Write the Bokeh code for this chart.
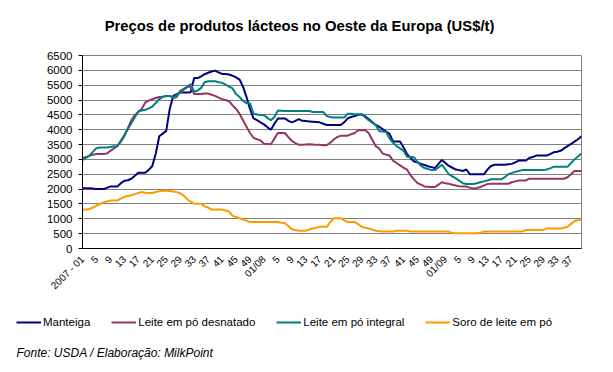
import math
from bokeh.plotting import figure
from bokeh.layouts import column, row
from bokeh.models import (Range1d, FixedTicker, Legend, LegendItem, Label)
from bokeh.embed import file_html
from bokeh.resources import INLINE

# ---- data (US$/t, weekly) ----
weeks = (["2007 - 01"] + [str(w) for w in range(2, 53)] +
         ["01/08"] + [str(w) for w in range(2, 53)] +
         ["01/09"] + [str(w) for w in range(2, 41)])

manteiga = [
    2030, 2030, 2030, 2020, 2000, 2000, 2000, 2040, 2090, 2090,
    2090, 2200, 2280, 2300, 2350, 2450, 2550, 2550, 2550, 2650,
    2780, 3200, 3780, 3870, 3960, 4700, 5140, 5200, 5250, 5250,
    5250, 5260, 5740, 5740, 5800, 5870, 5920, 5960, 5990,
    5930, 5880, 5880, 5860, 5820, 5760, 5690, 5450, 5100, 4700,
    4380, 4320, 4250, 4180, 4080, 4000, 4200, 4380, 4380, 4380,
    4300, 4250, 4300, 4360, 4300, 4290, 4280, 4270, 4260, 4250,
    4200, 4160, 4160, 4160, 4160, 4160, 4250, 4380, 4430, 4460,
    4500, 4520, 4450, 4360, 4260, 4160, 4100, 4020, 3940, 3860,
    3600, 3600, 3600, 3400, 3180, 3050, 2930, 2900, 2850, 2810,
    2770, 2740, 2710, 2850, 2980, 2880, 2780, 2720, 2660, 2640,
    2610, 2660, 2500, 2500, 2500, 2500, 2500, 2650, 2770,
    2820, 2820, 2820, 2820, 2840, 2850, 2900, 2960, 2960, 2960,
    3050, 3080, 3130, 3130, 3130, 3130, 3180, 3240, 3260, 3290,
    3370, 3450, 3520, 3600, 3680, 3780]

desnatado = [
    3040, 3080, 3130, 3160, 3180, 3180, 3180, 3200, 3290, 3370,
    3450, 3600, 3780, 4050, 4320, 4490, 4600, 4710, 4920, 4980,
    5030, 5070, 5100, 5110, 5140, 5140, 5070, 5100, 5310, 5380,
    5430, 5470, 5200, 5200, 5200, 5220, 5220, 5180, 5140,
    5080, 5030, 5000, 4960, 4820, 4700, 4540, 4320, 4100, 3890,
    3730, 3680, 3640, 3530, 3520, 3510, 3700, 3890, 3890, 3890,
    3750, 3620, 3550, 3490, 3490, 3500, 3510, 3500, 3490, 3490,
    3480, 3480, 3560, 3670, 3750, 3800, 3800, 3800, 3850, 3890,
    3980, 3980, 3980, 3890, 3670, 3450, 3370, 3200, 3160, 3130,
    2960, 2880, 2800, 2720, 2660, 2470, 2330, 2200, 2150, 2090,
    2080, 2070, 2070, 2150, 2230, 2200, 2180, 2150, 2120, 2100,
    2090, 2090, 2050, 2020, 2040, 2070, 2120, 2170, 2180,
    2180, 2180, 2180, 2180, 2180, 2230, 2260, 2290, 2290, 2290,
    2350, 2350, 2350, 2350, 2350, 2350, 2350, 2350, 2350, 2350,
    2350, 2400, 2500, 2610, 2610, 2610]

integral = [
    2980, 3050, 3130, 3260, 3380, 3400, 3400, 3400, 3420, 3440,
    3450, 3640, 3830, 4020, 4220, 4420, 4620, 4650, 4670, 4720,
    4780, 4900, 5030, 5100, 5140, 5140, 5090, 5170, 5250, 5350,
    5450, 5540, 5280, 5320, 5410, 5600, 5630, 5630, 5630,
    5600, 5580, 5520, 5450, 5390, 5200, 5100, 4980, 4890, 4890,
    4540, 4510, 4500, 4490, 4400, 4320, 4430, 4650, 4640, 4630,
    4630, 4630, 4630, 4630, 4630, 4630, 4630, 4600, 4600, 4600,
    4600, 4460, 4430, 4410, 4410, 4410, 4410, 4540, 4540, 4520,
    4520, 4520, 4420, 4320, 4240, 4160, 3960, 3940, 3920, 3700,
    3560, 3450, 3370, 3290, 3090, 3080, 3070, 2920, 2780, 2710,
    2680, 2640, 2640, 2730, 2820, 2660, 2500, 2430, 2360, 2280,
    2200, 2170, 2170, 2170, 2200, 2230, 2260, 2290, 2330,
    2330, 2330, 2330, 2400, 2500, 2540, 2580, 2610, 2640, 2640,
    2640, 2640, 2640, 2640, 2640, 2660, 2700, 2750, 2750, 2750,
    2750, 2750, 2880, 3000, 3100, 3200]

soro = [
    1310, 1310, 1330, 1380, 1440, 1500, 1550, 1580, 1620, 1620,
    1620, 1680, 1740, 1770, 1790, 1830, 1870, 1900, 1880, 1870,
    1870, 1900, 1930, 1940, 1950, 1940, 1920, 1900, 1860, 1780,
    1660, 1580, 1510, 1510, 1510, 1420, 1380, 1310, 1310,
    1310, 1310, 1280, 1250, 1100, 1060, 1020, 980, 940, 890,
    890, 890, 890, 890, 890, 890, 890, 890, 870, 850,
    760, 650, 620, 600, 600, 600, 640, 675, 700, 730,
    730, 730, 890, 1020, 1020, 1020, 950, 890, 890, 890,
    820, 730, 700, 675, 640, 600, 580, 570, 570, 570,
    570, 600, 600, 600, 600, 570, 570, 570, 570, 570,
    570, 570, 570, 570, 570, 570, 570, 520, 510, 510,
    510, 510, 510, 510, 510, 530, 570, 570, 570,
    570, 570, 570, 570, 570, 570, 570, 570, 570, 620,
    620, 620, 620, 620, 620, 675, 675, 675, 675, 675,
    700, 730, 830, 925, 950, 980]

series_names = ["Manteiga", "Leite em pó desnatado", "Leite em pó integral",
                "Soro de leite em pó"]
series_colors = ["#000080", "#993366", "#008080", "#FF9900"]
title_text = "Preços de produtos lácteos no Oeste da Europa (US$/t)"
source_text = "Fonte: USDA / Elaboração: MilkPoint"
y_ticks = list(range(0, 7000, 500))

FONT = "Liberation Sans"
W = 605
H_TITLE = 40
H_MAIN = 258
H_LEG = 66
FRAME_L, FRAME_R = 82, 581


def blank_strip(height):
    f = figure(width=W, height=height, output_backend="svg",
               toolbar_location=None,
               x_axis_location=None, y_axis_location=None,
               x_range=Range1d(0, 1), y_range=Range1d(0, 1),
               min_border=0, min_border_left=0, min_border_right=0,
               min_border_top=0, min_border_bottom=0)
    f.grid.visible = False
    f.outline_line_color = None
    f.background_fill_color = "white"
    f.border_fill_color = "white"
    return f


xs = list(range(len(weeks)))
n = len(weeks)
series_values = [manteiga, desnatado, integral, soro]

# ---------------- title strip ----------------
t = blank_strip(H_TITLE)
t.add_layout(Label(x=299 - FRAME_L, y=H_TITLE - 25, x_units="screen",
                   y_units="screen", text=title_text, text_font=FONT,
                   text_font_size="14.8px", text_font_style="bold",
                   text_align="center", text_baseline="middle",
                   text_color="black"))

# ---------------- main chart ----------------
p = figure(width=W, height=H_MAIN, output_backend="svg", toolbar_location=None,
           x_range=Range1d(0, n - 1), y_range=Range1d(0, 6500),
           min_border_left=FRAME_L, min_border_right=W - FRAME_R,
           min_border_top=55 - H_TITLE, min_border_bottom=H_MAIN - (254 - H_TITLE))
p.background_fill_color = "white"
p.border_fill_color = "white"
p.outline_line_color = "#808080"
p.outline_line_width = 1

p.yaxis.ticker = FixedTicker(ticks=y_ticks)
p.yaxis.major_label_text_font = FONT
p.yaxis.major_label_text_font_size = "11.5px"
p.yaxis.major_label_text_color = "black"
p.yaxis.axis_line_color = "black"
p.yaxis.major_tick_line_color = "black"
p.yaxis.major_tick_out = 4
p.yaxis.major_tick_in = 0
p.yaxis.minor_tick_line_color = None
p.yaxis.major_label_standoff = 6

tick_pos = xs[::4]
p.xaxis.ticker = FixedTicker(ticks=tick_pos)
p.xaxis.major_label_overrides = {i: weeks[i] for i in tick_pos}
p.xaxis.major_label_orientation = math.pi / 4
p.xaxis.major_label_text_font = FONT
p.xaxis.major_label_text_font_size = "10px"
p.xaxis.major_label_text_color = "black"
p.xaxis.axis_line_color = "black"
p.xaxis.major_tick_line_color = None
p.xaxis.minor_tick_line_color = None
p.xaxis.major_label_standoff = 3

p.xgrid.grid_line_color = None
p.ygrid.ticker = FixedTicker(ticks=y_ticks)
p.ygrid.grid_line_color = "#808080"
p.ygrid.grid_line_width = 1

for vals, col in zip(series_values, series_colors):
    p.line(xs, vals, line_color=col, line_width=2)

# ---------------- legend + source strip ----------------
# the same series, drawn where this strip's view range keeps them out of
# sight; they only provide the legend swatches
q = blank_strip(H_LEG)
q.x_range = Range1d(0, W)
q.y_range = Range1d(-H_LEG, 0)
legend_renderers = [q.line(xs, vals, line_color=c, line_width=2)
                    for vals, c in zip(series_values, series_colors)]
legend = Legend(items=[LegendItem(label=nm, renderers=[r])
                       for nm, r in zip(series_names, legend_renderers)],
                orientation="horizontal", location=(16, H_LEG - 34),
                glyph_width=25, glyph_height=20, label_standoff=2, spacing=21,
                padding=0, margin=0, border_line_color=None,
                background_fill_alpha=0,
                label_text_font=FONT, label_text_font_size="11.5px",
                label_text_color="black")
q.add_layout(legend, "center")
q.add_layout(Label(x=16, y=H_LEG - 54, x_units="screen", y_units="screen",
                   text=source_text, text_font=FONT, text_font_size="12px",
                   text_font_style="italic", text_align="left",
                   text_baseline="middle", text_color="black"))

open("out.html", "w").write(file_html(column(t, p, row(q), spacing=0), INLINE))
